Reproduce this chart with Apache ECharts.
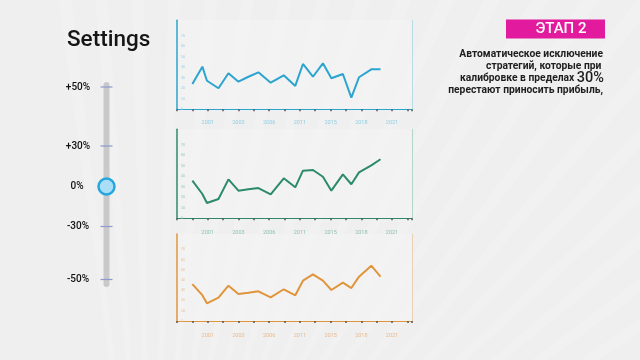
<!DOCTYPE html>
<html><head><meta charset="utf-8">
<script src="https://cdn.jsdelivr.net/npm/echarts@6/dist/echarts.min.js"></script>
<style>html,body{margin:0;padding:0;background:#efefef;}#c{width:640px;height:360px;}</style>
</head><body><div id="c"></div>
<script>
// ---- data ----
const xPositions = [1.0,1.65,1.95,2.7,3.35,4.0,4.65,5.3,6.1,6.95,7.7,8.2,8.85,9.5,10.05,10.8,11.35,11.85,12.65,13.25];
const yearLabels = ['2001','2003','2006','2011','2015','2018','2021'];
const seriesTop = [24.2,40.7,27.3,20.1,34.4,26.4,31.1,35.3,25.4,32.5,22.3,43.3,31.1,43.9,29.6,33.7,11.1,30.6,38.2,38.2];
const seriesMid = [35.9,23.2,14.6,18.4,37.2,26.4,27.7,28.9,22.9,38.2,29.6,45.5,46.1,39.7,26.4,42.0,32.5,43.9,50.6,56.4];
const seriesBot = [36.1,25.2,17.3,22.8,34.5,26.4,27.5,29.0,23.1,31.0,25.1,39.4,45.6,39.4,30.3,37.4,32.2,43.3,54.0,43.3];
const sliderLabels = ['+50%','+30%','0%','-30%','-50%'];
const titleText = 'Settings';
const stageText = 'ЭТАП 2';
const descLines = ['Автоматическое исключение','стратегий, которые при ','калибровке в пределах ','перестают приносить прибыль,'];
const descHighlight = '30%';

const chart = echarts.init(document.getElementById('c'), null, {renderer:'canvas'});

const panels = [
  {data: seriesTop, color:'#2ba4cf', light:'#8fcfe2', top:20.3, height:89, off:2},
  {data: seriesMid, color:'#2c8a6c', light:'#8fc3b1', top:129.3, height:89, off:3.4},
  {data: seriesBot, color:'#e0953c', light:'#e6bb8c', top:234, height:87, off:4}
];

const grid=[], xAxis=[], yAxis=[], series=[];
panels.forEach((p,i)=>{
  grid.push({left:177, right:228, top:p.top, height:p.height, show:true, backgroundColor:'rgba(255,255,255,0.2)', borderWidth:0});
  xAxis.push({type:'value', gridIndex:i, min:0, max:15.3, interval:1, offset:p.off,
    axisLine:{lineStyle:{color:p.color, width:1}},
    axisTick:{show:true, length:2, lineStyle:{color:'#555', width:1.5}},
    splitLine:{show:false},
    axisLabel:{fontSize:5.5, color:p.light, margin:8, fontFamily:'Roboto',
      formatter:v=>{ if(Math.abs(v-Math.round(v))>1e-6) return ''; const k=Math.round(v); return (k%2===0 && k>=2 && k<=14)? yearLabels[k/2-1] : ''; }}
  });
  yAxis.push({type:'value', gridIndex:i, min:0, max:85, interval:10,
    axisLine:{show:true, lineStyle:{color:p.color, width:1.5}},
    axisTick:{show:false}, splitLine:{show:false},
    axisLabel:{inside:true, fontSize:3.5, color:p.light, margin:4, formatter:v=>v<=70?String(v):''}
  });
  yAxis.push({type:'value', gridIndex:i, min:0, max:85, position:'right',
    axisLine:{show:true, lineStyle:{color:p.light, width:1, opacity:0.6}},
    axisTick:{show:false}, splitLine:{show:false}, axisLabel:{show:false}
  });
  series.push({type:'line', xAxisIndex:i, yAxisIndex:i*2, symbol:'none',
    lineStyle:{color:p.color, width:2}, data:p.data.map((v,j)=>[xPositions[j], v]), z:5});
});

// decorative background rays
const rays=[];
const fx=150, fy=650, R=1600;
for(let a=-98; a<=-8; a+=3.2){
  const a1=a*Math.PI/180, a2=(a+1.1)*Math.PI/180;
  rays.push({type:'polygon', silent:true, z:-10,
    shape:{points:[[fx,fy],[fx+R*Math.cos(a1),fy+R*Math.sin(a1)],[fx+R*Math.cos(a2),fy+R*Math.sin(a2)]]},
    style:{fill:'rgba(255,255,255,0.16)'}});
}

// slider (decorative UI)
const sliderX=106.5, sliderTop=82, sliderBottom=287;
const sliderTickY=[87,146,186.5,226.5,279.5];
const g = rays.concat([
  {type:'text', left:67, top:29, style:{text:titleText, font:'500 22.5px Roboto', fill:'#151515'}},
  {type:'rect', shape:{x:sliderX-3, y:sliderTop, width:6, height:sliderBottom-sliderTop, r:3}, style:{fill:'#c9c9c9'}}
]);
sliderLabels.forEach((t,i)=>{
  const y=sliderTickY[i];
  if(t!=='0%') g.push({type:'line', shape:{x1:sliderX-6, y1:y, x2:sliderX+6, y2:y}, style:{stroke:'#8d99cf', lineWidth:1.2}});
  g.push({type:'text', x: t==='0%'?77:78, y:y, style:{text:t, font:'500 10px Roboto', fill:'#111', textAlign:'center', textVerticalAlign:'middle'}});
});
g.push({type:'circle', shape:{cx:sliderX, cy:186.5, r:8}, style:{fill:'#a9def7', stroke:'#27a6de', lineWidth:2.5}});

// right panel
g.push({type:'rect', shape:{x:506, y:19.5, width:99, height:19}, style:{fill:'#e21b9e'}});
g.push({type:'text', x:561, y:29.5, style:{text:stageText, font:'500 15px Roboto', fill:'#ffffff', textAlign:'center', textVerticalAlign:'middle'}});
const descY=[54,66,78,90];
descLines.forEach((t,i)=>{
  if(i===2){
    g.push({type:'text', x:604, y:descY[i], style:{rich:{a:{font:'bold 10.3px Roboto', fill:'#1e1e1e'}, b:{font:'500 14.5px Roboto', fill:'#1e1e1e'}},
      text:'{a|'+t+'}{b|'+descHighlight+'}', textAlign:'right', textVerticalAlign:'middle'}});
  } else {
    g.push({type:'text', x: i===1?604:603, y:descY[i], style:{text:t, font:'bold 10.3px Roboto', fill:'#1e1e1e', textAlign:'right', textVerticalAlign:'middle'}});
  }
});

chart.setOption({
  backgroundColor:'#efefef',
  animation:false,
  grid, xAxis, yAxis, series,
  graphic:g
});
</script></body></html>
